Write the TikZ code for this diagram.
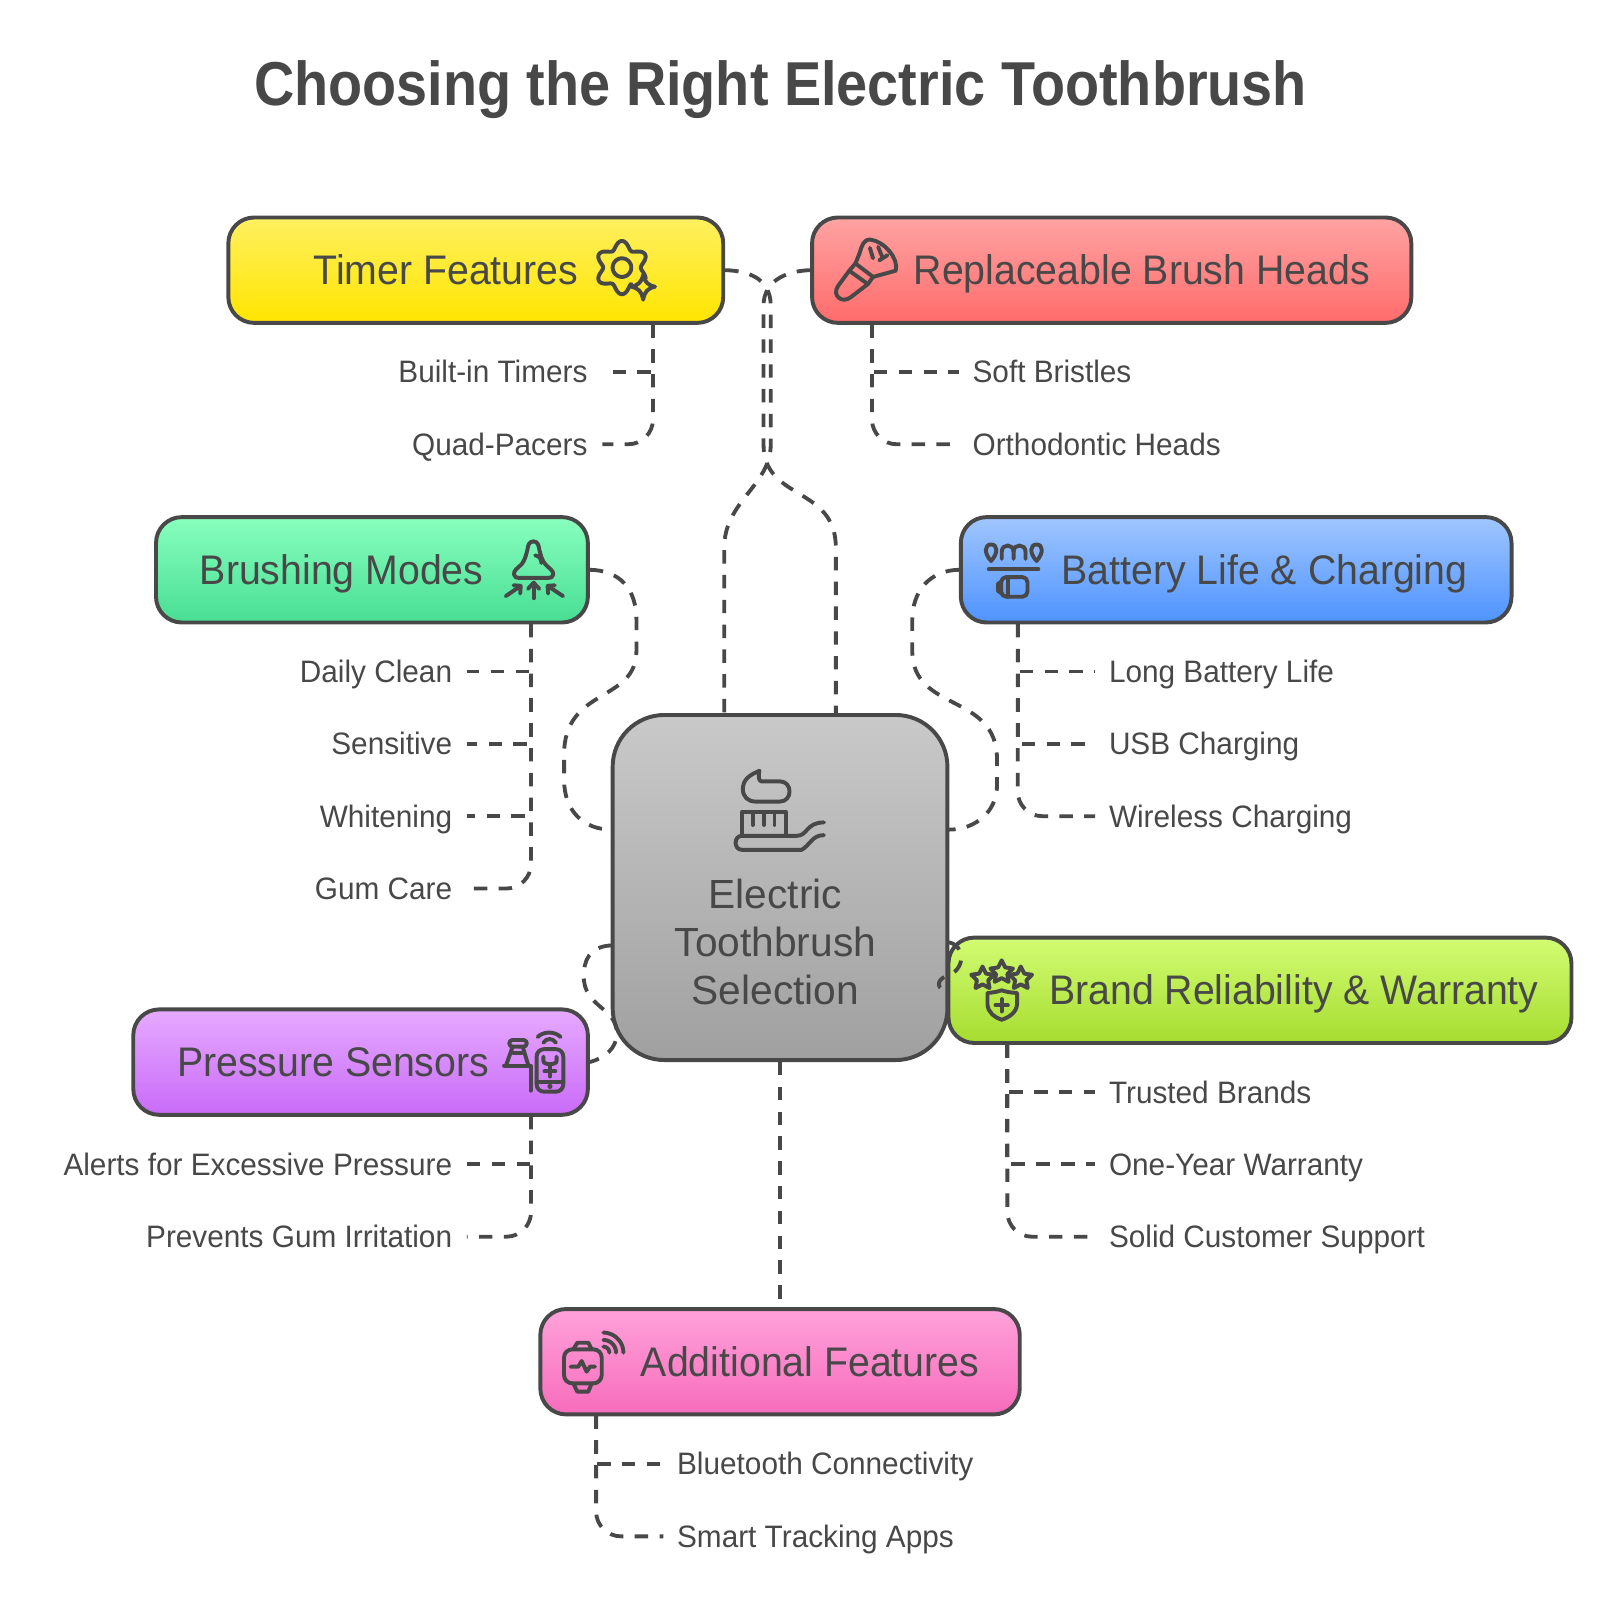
\documentclass[tikz,border=0pt]{standalone}
\usepackage{fontspec}
\setmainfont{Liberation Sans}
\newfontfamily\titlefam[FakeStretch=0.9]{Liberation Sans Bold}
\newfontfamily\boxfam[FakeStretch=0.95]{Liberation Sans}
\newfontfamily\subfam[FakeStretch=0.96]{Liberation Sans}
\usetikzlibrary{calc}
\definecolor{ink}{HTML}{484848}
\definecolor{yT}{HTML}{FFF060}\definecolor{yB}{HTML}{FFE500}
\definecolor{rT}{HTML}{FFA3A3}\definecolor{rB}{HTML}{FF6B6B}
\definecolor{gT}{HTML}{88FFBE}\definecolor{gB}{HTML}{48DE94}
\definecolor{bT}{HTML}{A0C6FF}\definecolor{bB}{HTML}{4E93FF}
\definecolor{cT}{HTML}{C9C9C9}\definecolor{cB}{HTML}{A0A0A0}
\definecolor{lT}{HTML}{D2FC72}\definecolor{lB}{HTML}{A6DC30}
\definecolor{pT}{HTML}{E6AAFF}\definecolor{pB}{HTML}{C96BF8}
\definecolor{mT}{HTML}{FFA2DA}\definecolor{mB}{HTML}{F76CBC}
\tikzset{
 x=0.5pt,y=-0.5pt,
 box/.style={draw=ink,line width=1.9pt,rounded corners=12.5pt,inner sep=0pt},
 link/.style={draw=ink,line width=1.85pt,dash pattern=on 6.5pt off 5.5pt},
 softlink/.style={link,rounded corners=12pt},
 icon/.style={draw=ink,line width=1.9pt,line cap=round,line join=round},
 boxlabel/.style={text=ink,font=\boxfam\fontsize{20}{24}\selectfont,inner sep=0pt,text height=14pt,text depth=0pt,anchor=west},
 sublabelR/.style={text=ink,font=\subfam\fontsize{15}{17}\selectfont,inner ysep=0pt,inner xsep=7pt,text height=10.6pt,text depth=0pt,anchor=east},
 sublabelL/.style={text=ink,font=\subfam\fontsize{15}{17}\selectfont,inner ysep=0pt,inner xsep=6.5pt,text height=10.6pt,text depth=0pt,anchor=west},
}
\newcommand{\starico}[3]{\draw[icon] plot[domain=0:9,samples=10] ({#1+ifthenelse(mod(round(\x),2)==0,#3,#3*0.5)*cos(-90+36*\x)},{#2+ifthenelse(mod(round(\x),2)==0,#3,#3*0.5)*sin(-90+36*\x)}) -- cycle;}
\begin{document}
\begin{tikzpicture}
\useasboundingbox (0,0) rectangle (1568,1560);
\fill[white] (0,0) rectangle (1568,1560);
\node[text=ink,font=\titlefam\fontsize{30}{36}\selectfont,inner sep=0pt] (title) at (755.5,86.5) {Choosing the Right Electric Toothbrush};

% boxes
\node[box,minimum width=239.5pt,minimum height=51pt,top color=yT,bottom color=yB] (timer) at (460.5,261.5) {};
\node[box,minimum width=290pt,minimum height=51pt,top color=rT,bottom color=rB] (brushheads) at (1076,261.5) {};
\node[box,minimum width=209pt,minimum height=51pt,top color=gT,bottom color=gB] (modes) at (360,551.5) {};
\node[box,minimum width=266.5pt,minimum height=51pt,top color=bT,bottom color=bB] (battery) at (1196.5,551.5) {};
\node[box,minimum width=301.5pt,minimum height=51pt,top color=lT,bottom color=lB] (brand) at (1219.5,958.5) {};
\node[box,minimum width=220pt,minimum height=51pt,top color=pT,bottom color=pB] (pressure) at (349,1028) {};
\node[box,minimum width=232pt,minimum height=51pt,top color=mT,bottom color=mB] (additional) at (755,1318) {};
\node[box,rounded corners=25pt,minimum width=162pt,minimum height=167pt,top color=cT,bottom color=cB] (hub) at (755,859) {};

% box labels
\node[boxlabel] (ltimer) at (303,261.5) {Timer Features};
\node[boxlabel] (lheads) at (884,261.5) {Replaceable Brush Heads};
\node[boxlabel] (lmodes) at (193,551.5) {Brushing Modes};
\node[boxlabel] (lbatt) at (1027,551.5) {Battery Life \& Charging};
\node[boxlabel] (lbrand) at (1015,958.5) {Brand Reliability \& Warranty};
\node[boxlabel] (lpress) at (171,1028) {Pressure Sensors};
\node[boxlabel] (ladd) at (620,1318) {Additional Features};
\node[text=ink,font=\fontsize{19.7}{23.2}\selectfont,align=center,inner sep=0pt] (lhub) at (750.5,912) {Electric\\Toothbrush\\Selection};

% sub labels
\node[sublabelR] (a1) at (583,360) {Built-in Timers};
\node[sublabelR] (a2) at (583,430) {Quad-Pacers};
\node[sublabelL] (b1) at (928,360) {Soft Bristles};
\node[sublabelL] (b2) at (928,430) {Orthodontic Heads};
\node[sublabelR] (c1) at (452,650) {Daily Clean};
\node[sublabelR] (c2) at (452,720) {Sensitive};
\node[sublabelR] (c3) at (452,790) {Whitening};
\node[sublabelR] (c4) at (452,860) {Gum Care};
\node[sublabelL] (d1) at (1060,650) {Long Battery Life};
\node[sublabelL] (d2) at (1060,720) {USB Charging};
\node[sublabelL] (d3) at (1060,790) {Wireless Charging};
\node[sublabelL] (e1) at (1060,1057) {Trusted Brands};
\node[sublabelL] (e2) at (1060,1127) {One-Year Warranty};
\node[sublabelL] (e3) at (1060,1197) {Solid Customer Support};
\node[sublabelR] (f1) at (452,1127) {Alerts for Excessive Pressure};
\node[sublabelR] (f2) at (452,1197) {Prevents Gum Irritation};
\node[sublabelL] (g1) at (642,1417) {Bluetooth Connectivity};
\node[sublabelL] (g2) at (642,1487) {Smart Tracking Apps};

% ports
\coordinate (pa) at (632,314);
\coordinate (pb) at (844,314);
\coordinate (pc) at (514,604);
\coordinate (pd) at (985,604);
\coordinate (pe) at (975,1011);
\coordinate (pf) at (514,1080);
\coordinate (pg) at (577,1370);
\coordinate (h1) at (701,691);
\coordinate (h2) at (809,691);
\coordinate (h3) at (592,803);
\coordinate (h4) at (918,803);
\coordinate (h5) at (592,915);
\coordinate (h6) at (918,912);

% sub connectors
\draw[link] (pa) |- (a1.east);
\draw[softlink] (pa) |- (a2.east);
\draw[link] (pb) |- (b1.west);
\draw[softlink] (pb) |- (b2.west);
\draw[link] (pc) |- (c1.east);
\draw[link] (pc) |- (c2.east);
\draw[link] (pc) |- (c3.east);
\draw[softlink] (pc) |- (c4.east);
\draw[link] (pd) |- (d1.west);
\draw[link] (pd) |- (d2.west);
\draw[softlink] (pd) |- (d3.west);
\draw[link] (pe) |- (e1.west);
\draw[link] (pe) |- (e2.west);
\draw[softlink] (pe) |- (e3.west);
\draw[link] (pf) |- (f1.east);
\draw[softlink] (pf) |- (f2.east);
\draw[link] (pg) |- (g1.west);
\draw[softlink] (pg) |- (g2.west);

% main connectors
\draw[link] (timer.east) .. controls (722,262) and (746,268) .. (746,296) -- (746,430) .. controls (746,470) and (701,485) .. (701,530) -- (h1);
\draw[link] (brushheads.west) .. controls (764,262) and (739,270) .. (739,296) -- (739,430) .. controls (739,485) and (809,470) .. (809,530) -- (h2);
\draw[link] (modes.east) .. controls (600,552) and (616,570) .. (616,600) -- (616,630) .. controls (616,680) and (546,665) .. (546,730) -- (546,755) .. controls (546,785) and (565,803) .. (h3);
\draw[link] (battery.west) .. controls (900,552) and (883,572) .. (883,600) -- (883,630) .. controls (883,690) and (965,670) .. (965,735) -- (965,760) .. controls (965,785) and (945,803) .. (h4);
\draw[link] (h5) .. controls (570,916) and (565,930) .. (565,945) .. controls (565,975) and (597,975) .. (597,1000) .. controls (597,1015) and (585,1024) .. (pressure.east);
\draw[link] (h6) .. controls (935,915) and (935,940) .. (915,945) .. controls (905,950) and (908,958) .. (brand.west);
\draw[link] (hub.south) -- (additional.north);

% --- icons ---
% gear
\draw[icon] plot[domain=60:385,samples=90,smooth] ({602+(22+3.8*cos(6*(\x+90)))*cos(\x)},{259+(22+3.8*cos(6*(\x+90)))*sin(\x)});
\draw[icon] plot[domain=0:360,samples=40,smooth] ({602+9*cos(\x)},{259+9*sin(\x)});
\draw[icon] (622.5,266) .. controls (624,273) and (627,276) .. (634,277.5) .. controls (627,279) and (624,282) .. (622.5,290) .. controls (621,282) and (618,279) .. (611,277.5) .. controls (618,276) and (621,273) .. cycle;
% brush
\draw[icon] (822,262) -- (811,277) .. controls (805,286) and (815,294) .. (823,288) -- (840,275);
\draw[icon] (822,262) -- (840,275);
\draw[icon] (828,255) -- (845,268);
\draw[icon] (828,255) -- (822,262);
\draw[icon] (845,268) -- (840,275);
\draw[icon] (828,255) -- (832,245) .. controls (834,238) and (836,231) .. (843,232) .. controls (856,234) and (870,250) .. (867,262) -- (845,268);
\draw[icon] (842,240) -- (845,250);
\draw[icon] (850,239) -- (854,249);
\draw[icon] (859,247) -- (851,252);
% bell + arrows
\draw[icon] (516.3,524) .. controls (512,524) and (511,528) .. (510.5,532) .. controls (509,538) and (508,542) .. (505,546) .. controls (501,550) and (497,552) .. (497.5,556) .. controls (498,559) and (500,559.3) .. (502,559.3) -- (531,559.3) .. controls (533,559.3) and (535,559) .. (535.5,556) .. controls (536,552) and (531,550) .. (527.7,546) .. controls (524.5,542) and (523.5,538) .. (522,532) .. controls (521.5,528) and (520.5,524) .. cycle;
\draw[icon] (518,537.5) .. controls (522,538) and (524,541) .. (524,545);
\draw[icon] (516.5,564) -- (516.5,579);
\draw[icon] (511,570) -- (516.5,564) -- (522,570);
\draw[icon] (489.5,577) -- (504,567);
\draw[icon] (497,566.5) -- (504,567) -- (503.5,574.5);
\draw[icon] (545,577) -- (530,567);
\draw[icon] (537,566.5) -- (530,567) -- (530.5,574.5);
% battery icon
\draw[icon] (959.3,543) .. controls (952,535) and (953,527) .. (959.3,527) .. controls (965.5,527) and (966.5,535) .. (959.3,543) -- cycle;
\draw[icon] (1003.3,543) .. controls (996,535) and (997,527) .. (1003.3,527) .. controls (1009.5,527) and (1010.5,535) .. (1003.3,543) -- cycle;
\draw[icon] (969.6,541) -- (969.6,534) .. controls (969.6,526) and (981,526) .. (981,534) -- (981,541);
\draw[icon] (981,534) .. controls (981,526) and (992.6,526) .. (992.6,534) -- (992.6,541);
\draw[icon] (957,551) -- (1005,551);
\draw[icon,rounded corners=2.5pt] (969,558.5) rectangle (994.5,577.6);
\draw[icon] (975.4,558.5) -- (975.4,577.6);
\draw[icon] (969,563) -- (966,565) -- (966,572) -- (969,574);
% toothbrush
\draw[icon] (735,746) .. controls (726,750) and (719,754) .. (719,764) .. controls (719,771) and (724,775.8) .. (731,775.8) -- (755,775.8) .. controls (761,775.8) and (764.2,771) .. (764.2,766) .. controls (764.2,761) and (761,756.3) .. (755,756.3) -- (737,756.3) .. controls (734,756.3) and (734,750) .. cycle;
\draw[icon] (718,809) -- (718,786) -- (761,786) -- (761,809);
\draw[icon] (728.6,786) -- (728.6,798.5);
\draw[icon] (739.3,786) -- (739.3,798.5);
\draw[icon] (749.6,786) -- (749.6,798.5);
\draw[icon] (797.5,796) .. controls (780,796) and (782,809) .. (771,809) -- (718,809) .. controls (710,809) and (710,822.5) .. (718,822.5) -- (776,822.5) .. controls (784,818) and (786,808.3) .. (797.5,808.3);
% stars + shield
\starico{969.5}{941}{11.5}
\starico{951}{947}{11.5}
\starico{988}{947}{11.5}
\draw[icon] (969.5,958.5) .. controls (962,961) and (956,961) .. (955.8,961) -- (955.8,972) .. controls (956,980) and (963,985) .. (969.5,987) .. controls (976,985) and (984,980) .. (984.4,972) -- (984.4,961) .. controls (984,961) and (977,961) .. cycle;
\draw[icon] (969.5,967) -- (969.5,979);
\draw[icon] (963.5,973) -- (975.5,973);
% pressure
\draw[icon,rounded corners=3.5pt] (519.4,1015.5) rectangle (545.2,1056.6);
\draw[icon] (519.4,1046.9) -- (545.2,1046.9);
\fill[ink] (532.3,1051.5) circle[radius=2.5];
\draw[icon] (526,1022.7) -- (526,1027) .. controls (526,1031) and (538.7,1031) .. (538.7,1027) -- (538.7,1022.7);
\draw[icon] (532.3,1030) -- (532.3,1042);
\draw[icon] (527,1037) -- (537.5,1037);
\draw[icon] (520.4,1003.7) .. controls (526,998) and (537,998) .. (542.6,1003.7);
\draw[icon] (525.9,1009.2) .. controls (529,1004.5) and (535,1004.5) .. (538.1,1009.2);
\draw[icon,rounded corners=1.5pt] (493,1006.6) rectangle (509.8,1013);
\draw[icon] (496.2,1013) -- (489.7,1031.4);
\draw[icon] (505.9,1013) -- (511.4,1031.4);
\draw[icon] (487.8,1031.4) -- (513.6,1031.4) -- (513.6,1055.6);
\draw[icon] (497,1019) -- (505,1019);
% watch
\draw[icon,rounded corners=4pt] (545.9,1306) rectangle (582.4,1338.9);
\draw[icon] (554.9,1306) -- (558.8,1299.6) -- (569.4,1299.6) -- (572.7,1306);
\draw[icon] (554.9,1338.9) -- (558.8,1347) -- (569.4,1347) -- (572.7,1338.9);
\draw[icon] (552.3,1322.8) -- (559.7,1322.8) -- (563,1317.3) -- (567.8,1327.6) -- (571,1322.8) -- (575.9,1322.8);
\draw[icon] plot[domain=-90:0,samples=10,smooth] ({584+5.8*cos(\x)},{1309.2+5.8*sin(\x)});
\draw[icon] plot[domain=-90:0,samples=10,smooth] ({584+12.3*cos(\x)},{1309.2+12.3*sin(\x)});
\draw[icon] plot[domain=-90:0,samples=10,smooth] ({584+19.4*cos(\x)},{1309.2+19.4*sin(\x)});
\end{tikzpicture}
\end{document}
